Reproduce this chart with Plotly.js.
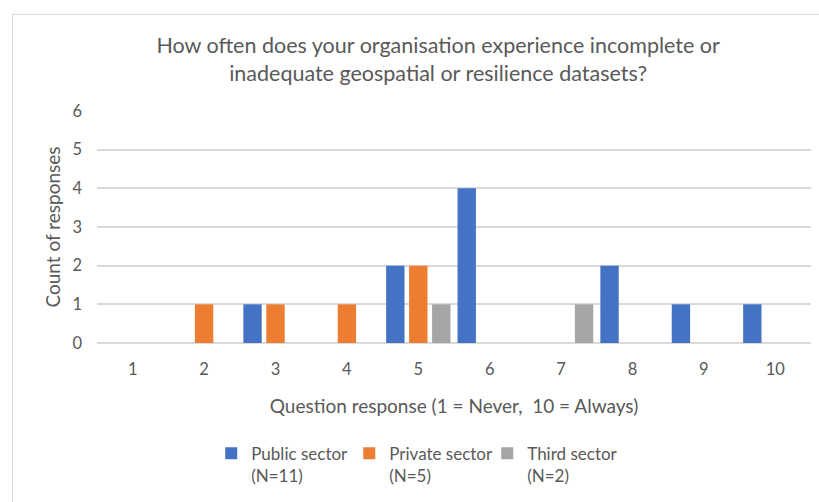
<!DOCTYPE html>
<html>
<head>
<meta charset="utf-8">
<script src="https://cdn.plot.ly/plotly-3.0.1.min.js"></script>
<style>
  html, body { margin: 0; padding: 0; background: #ffffff; }
  #frame { position: absolute; left: 12px; top: 14px; width: 820px; height: 500px;
           border-left: 1.5px solid #d9d9d9; border-top: 1.5px solid #d9d9d9; }
  #chart { position: absolute; left: 0; top: 0; width: 819px; height: 502px; }
</style>
</head>
<body>
<div id="frame"></div>
<div id="chart"></div>
<script>
const categories = ['1', '2', '3', '4', '5', '6', '7', '8', '9', '10'];
const publicSector = [0, 0, 1, 0, 2, 4, 0, 2, 1, 1];
const privateSector = [0, 1, 1, 1, 2, 0, 0, 0, 0, 0];
const thirdSector = [0, 0, 0, 0, 1, 0, 1, 0, 0, 0];
const seriesNames = ['Public sector<br>(N=11)', 'Private sector<br>(N=5)', 'Third sector<br>(N=2)'];
const seriesColors = ['#4472C4', '#ED7D31', '#A5A5A5'];
const titleText = 'How often does your organisation experience incomplete or<br>inadequate geospatial or resilience datasets?';
const xTitle = 'Question response (1 = Never,\u00a0 10 = Always)';
const yTitle = 'Count of responses';

const font = 'Lato, "Open Sans", sans-serif';
const textColor = '#595959';

const values = [publicSector, privateSector, thirdSector];
const traces = values.map((v, i) => ({
  type: 'bar',
  x: categories,
  y: v,
  name: seriesNames[i],
  marker: { color: seriesColors[i] },
  hoverinfo: 'x+y+name'
}));

const layout = {
  width: 819,
  height: 502,
  margin: { l: 97, r: 8, t: 111, b: 156 },
  paper_bgcolor: 'rgba(0,0,0,0)',
  plot_bgcolor: 'rgba(0,0,0,0)',
  font: { family: font, color: textColor, size: 16 },
  barmode: 'group',
  bargap: 0.035,
  bargroupgap: 0.2,
  title: {
    text: titleText,
    font: { family: font, size: 21.5, color: textColor },
    x: 0.535, xref: 'container', xanchor: 'center',
    y: 0.894, yref: 'container', yanchor: 'top'
  },
  xaxis: {
    type: 'category',
    showgrid: false,
    showline: false,
    zeroline: false,
    ticks: '',
    ticklabelstandoff: 14,
    tickfont: { family: font, size: 16.5, color: textColor },
    title: { text: xTitle, font: { family: font, size: 19, color: textColor }, standoff: 22 }
  },
  yaxis: {
    range: [0, 6],
    dtick: 1,
    showgrid: true,
    gridcolor: '#d9d9d9',
    gridwidth: 1.5,
    zeroline: true,
    zerolinecolor: '#d9d9d9',
    zerolinewidth: 1.5,
    showline: false,
    ticks: '',
    ticklabelstandoff: 14,
    tickfont: { family: font, size: 16.5, color: textColor },
    title: { text: yTitle, font: { family: font, size: 19, color: textColor }, standoff: 6 }
  },
  showlegend: true,
  legend: {
    orientation: 'h',
    x: 0.16, xanchor: 'left',
    y: -0.40, yanchor: 'top',
    valign: 'top',
    entrywidth: 93,
    font: { family: font, size: 17, color: textColor },
    bgcolor: 'rgba(0,0,0,0)'
  }
};

Plotly.newPlot('chart', traces, layout, { displayModeBar: false, staticPlot: false });
</script>
</body>
</html>
